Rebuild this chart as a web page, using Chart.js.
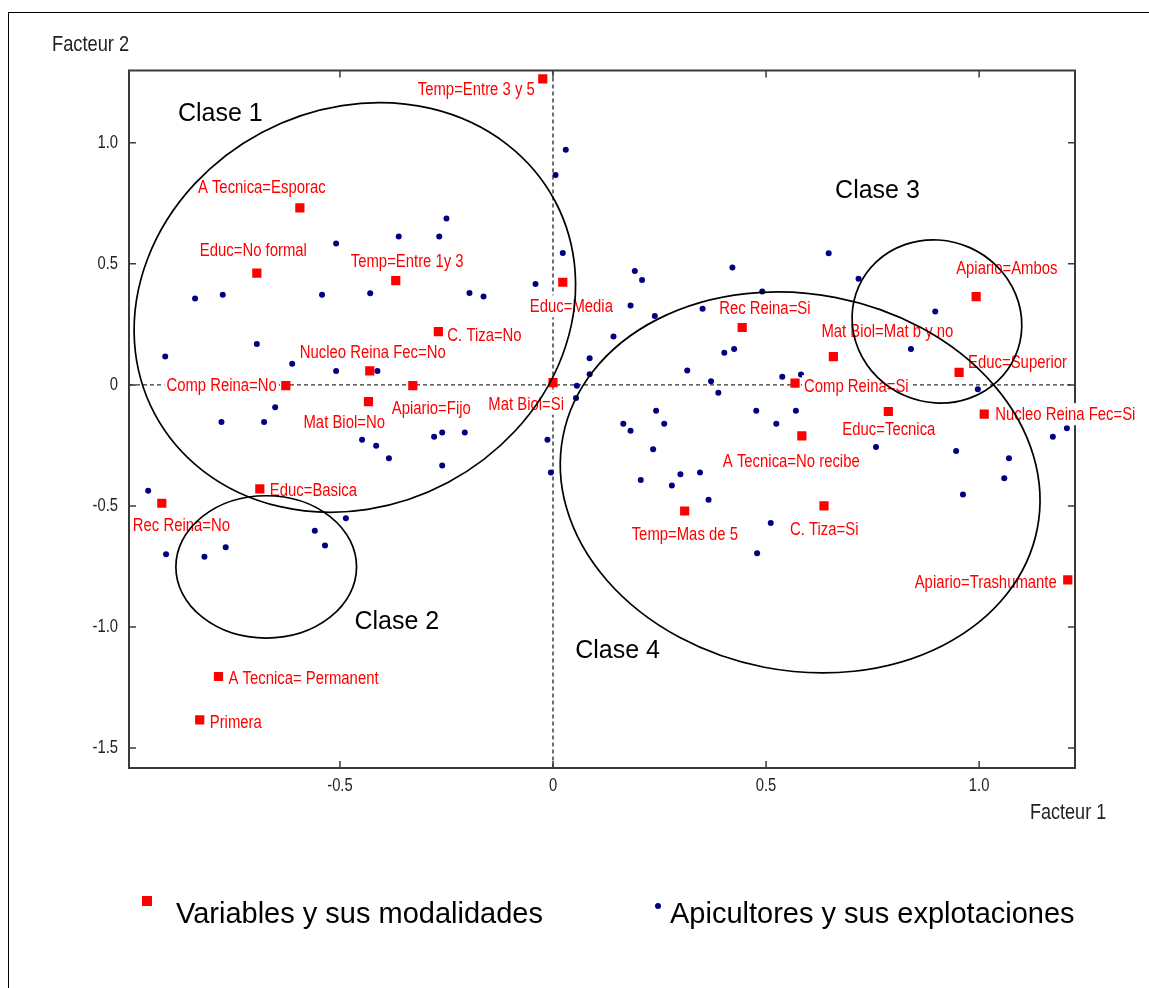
<!DOCTYPE html>
<html>
<head>
<meta charset="utf-8">
<title>Facteur 1 / Facteur 2</title>
<script src="https://cdn.jsdelivr.net/npm/chart.js@4/dist/chart.umd.min.js"></script>
<style>
  html, body { margin: 0; padding: 0; background: #fff; }
  #wrap { position: relative; width: 1149px; height: 988px; overflow: hidden; }
  #frame { position: absolute; left: 8px; top: 12px; width: 1400px; height: 1200px;
           border-left: 1.5px solid #000; border-top: 1.5px solid #000; }
  canvas { position: absolute; left: 0; top: 0; }
  .leg { position: absolute; font-family: "Liberation Sans", Arial, sans-serif; font-size: 29px;
         color: #000; line-height: 1; white-space: nowrap; }
  .sq { position: absolute; width: 10px; height: 10px; background: #ff0000; }
  .dot { position: absolute; width: 6px; height: 6px; border-radius: 50%; background: #000080; }
</style>
</head>
<body>
<div id="wrap">
  <div id="frame"></div>
  <canvas id="c" width="1149" height="988"></canvas>
  <div class="sq" style="left:142px; top:896px;"></div>
  <div class="leg" style="left:176px; top:899px;">Variables y sus modalidades</div>
  <div class="dot" style="left:655px; top:903px;"></div>
  <div class="leg" style="left:670px; top:899px;">Apicultores y sus explotaciones</div>
</div>
<script>
// Modalities of the variables (factor coordinates)
const modalityNames = [
  'Temp=Entre 3 y 5', 'A Tecnica=Esporac', 'Educ=No formal', 'Temp=Entre 1y 3',
  'C. Tiza=No', 'Nucleo Reina Fec=No', 'Comp Reina=No', 'Apiario=Fijo',
  'Mat Biol=No', 'Educ=Media', 'Mat Biol=Si', 'Rec Reina=Si',
  'Mat Biol=Mat b y no', 'Apiario=Ambos', 'Educ=Superior', 'Comp Reina=Si',
  'Educ=Tecnica', 'Nucleo Reina Fec=Si', 'A Tecnica=No recibe', 'Temp=Mas de 5',
  'C. Tiza=Si', 'Apiario=Trashumante', 'Rec Reina=No', 'Educ=Basica',
  'A Tecnica= Permanent', 'Primera'
];
const modalityF1 = [
  -0.024, -0.594, -0.695, -0.369, -0.269, -0.430, -0.627, -0.329,
  -0.433, 0.023, 0.000, 0.444, 0.658, 0.993, 0.953, 0.568,
  0.787, 1.012, 0.584, 0.309, 0.636, 1.208, -0.918, -0.688,
  -0.785, -0.829
];
const modalityF2 = [
  1.264, 0.731, 0.462, 0.431, 0.220, 0.058, -0.003, -0.003,
  -0.069, 0.424, 0.009, 0.237, 0.117, 0.365, 0.052, 0.007,
  -0.110, -0.121, -0.211, -0.521, -0.500, -0.806, -0.489, -0.430,
  -1.205, -1.384
];

// Beekeepers and their holdings (factor coordinates)
const keeperF1 = [
  -0.509, -0.362, -0.267, -0.250, 0.030, 0.006, 0.023, -0.196, -0.163, -0.041,
  0.192, 0.209, 0.421, 0.182, 0.351, 0.491, -0.840, -0.775, -0.542, -0.429,
  -0.695, -0.910, -0.612, -0.509, -0.412, -0.652, -0.778, -0.678, -0.448, -0.415,
  -0.385, -0.279, -0.260, -0.207, -0.260, -0.013, -0.950, -0.005, -0.486, -0.559,
  -0.535, -0.908, -0.818, -0.768, 0.239, 0.142, 0.086, 0.086, 0.056, 0.054,
  0.315, 0.402, 0.425, 0.371, 0.388, 0.538, 0.582, 0.242, 0.165, 0.182,
  0.261, 0.235, 0.477, 0.570, 0.524, 0.758, 0.206, 0.279, 0.299, 0.345,
  0.365, 0.511, 0.479, 0.647, 0.717, 0.897, 0.840, 0.997, 1.173, 0.946,
  1.070, 1.059, 0.962, 1.206
];
const keeperF2 = [
  0.584, 0.613, 0.613, 0.687, 0.972, 0.867, 0.545, 0.380, 0.365, 0.417,
  0.471, 0.433, 0.485, 0.328, 0.315, 0.386, 0.357, 0.372, 0.372, 0.379,
  0.169, 0.117, 0.087, 0.057, 0.057, -0.092, -0.153, -0.153, -0.227, -0.251,
  -0.303, -0.214, -0.197, -0.197, -0.333, -0.227, -0.437, -0.362, -0.551, -0.603,
  -0.664, -0.700, -0.710, -0.671, 0.285, 0.200, 0.110, 0.044, -0.004, -0.054,
  0.059, 0.133, 0.148, 0.015, -0.033, 0.034, 0.043, -0.107, -0.161, -0.190,
  -0.161, -0.266, -0.107, -0.107, -0.161, -0.257, -0.393, -0.416, -0.369, -0.362,
  -0.475, -0.571, -0.696, 0.544, 0.439, 0.303, 0.148, -0.018, -0.214, -0.273,
  -0.303, -0.386, -0.453, -0.179
];

// Axis ticks
const xTickValues = [-0.5, 0, 0.5, 1.0];
const yTickValues = [-1.5, -1.0, -0.5, 0, 0.5, 1.0];

// Clusters: ellipse centre, semi-axes (in axis units) and tilt in degrees
const classNames = ['Clase 1', 'Clase 2', 'Clase 3', 'Clase 4'];
const classCenterF1 = [-0.465, -0.673, 0.901, 0.580];
const classCenterF2 = [0.320, -0.752, 0.262, -0.403];
const classRadiusF1 = [0.532, 0.212, 0.201, 0.567];
const classRadiusF2 = [0.819, 0.294, 0.334, 0.778];
const classTilt = [-28, 0, 24, 11];
const classTitleF1 = [-0.880, -0.466, 0.662, 0.052];
const classTitleF2 = [1.120, -0.982, 0.799, -1.099];

// Label placement next to each modality marker: [dx, dy, align]
const labelPlacement = [
  [-8, 10, 'right'], [-102, -21, 'left'], [-57, -23, 'left'], [-45, -19, 'left'],
  [9, 4, 'left'], [-70, -19, 'left'], [-9, 0, 'right'], [-21, 23, 'left'],
  [-65, 21, 'left'], [-33, 24, 'left'], [11, 21, 'right'], [-23, -19, 'left'],
  [-12, -25, 'left'], [-20, -28, 'left'], [9, -10, 'left'], [9, 3, 'left'],
  [-46, 18, 'left'], [11, 0, 'left'], [-79, 25, 'left'], [-53, 23, 'left'],
  [-34, 23, 'left'], [-11, 2, 'right'], [-29, 22, 'left'], [10, 1, 'left'],
  [10, 2, 'left'], [10, 2, 'left']
];

const SANS = '"Liberation Sans", Arial, sans-serif';

// narrow lettering: regular sans squeezed horizontally
function narrowWidth(ctx, text, k) {
  return ctx.measureText(text).width * k;
}
function narrowText(ctx, text, x, y, align, k) {
  const w = narrowWidth(ctx, text, k);
  const left = align === 'right' ? x - w : (align === 'center' ? x - w / 2 : x);
  ctx.save();
  ctx.translate(left, y);
  ctx.scale(k, 1);
  ctx.textAlign = 'left';
  ctx.fillText(text, 0, 0);
  ctx.restore();
}

const modalityPoints = modalityF1.map((v, i) => ({ x: v, y: modalityF2[i] }));
const keeperPoints = keeperF1.map((v, i) => ({ x: v, y: keeperF2[i] }));

const plotDecor = {
  id: 'plotDecor',
  beforeDatasetsDraw(chart) {
    const { ctx, chartArea: a, scales: { x, y } } = chart;
    ctx.save();
    // dashed zero axes
    ctx.strokeStyle = '#333';
    ctx.lineWidth = 1.4;
    ctx.setLineDash([4, 3]);
    const x0 = x.getPixelForValue(0), y0 = y.getPixelForValue(0);
    ctx.beginPath();
    ctx.moveTo(a.left, y0); ctx.lineTo(a.right, y0);
    ctx.moveTo(x0, a.top); ctx.lineTo(x0, a.bottom);
    ctx.stroke();
    ctx.setLineDash([]);
    // frame
    ctx.strokeStyle = '#3a3a3a';
    ctx.lineWidth = 2;
    ctx.strokeRect(a.left, a.top, a.right - a.left, a.bottom - a.top);
    // inward tick marks on all four sides
    ctx.lineWidth = 1.5;
    ctx.beginPath();
    const tl = 7;
    x.ticks.forEach(t => {
      const px = x.getPixelForValue(t.value);
      ctx.moveTo(px, a.bottom); ctx.lineTo(px, a.bottom - tl);
      ctx.moveTo(px, a.top); ctx.lineTo(px, a.top + tl);
    });
    y.ticks.forEach(t => {
      const py = y.getPixelForValue(t.value);
      ctx.moveTo(a.left, py); ctx.lineTo(a.left + tl, py);
      ctx.moveTo(a.right, py); ctx.lineTo(a.right - tl, py);
    });
    ctx.stroke();
    // tick labels
    ctx.fillStyle = '#222';
    ctx.font = '18px ' + SANS;
    ctx.textBaseline = 'middle';
    x.ticks.forEach(t => {
      narrowText(ctx, fmtTick(t.value), x.getPixelForValue(t.value), a.bottom + 18, 'center', 0.82);
    });
    y.ticks.forEach(t => {
      narrowText(ctx, fmtTick(t.value), a.left - 11, y.getPixelForValue(t.value), 'right', 0.82);
    });
    // axis titles
    ctx.font = '22px ' + SANS;
    narrowText(ctx, 'Facteur 2', 52, 45, 'left', 0.83);
    narrowText(ctx, 'Facteur 1', 1030, 813, 'left', 0.82);
    ctx.restore();
  },
  afterDatasetsDraw(chart) {
    const { ctx, scales: { x, y } } = chart;
    ctx.save();
    // modality labels on white boxes
    const k = 0.85;
    ctx.font = '17.5px ' + SANS;
    ctx.textBaseline = 'middle';
    modalityNames.forEach((name, i) => {
      const [dx, dy, align] = labelPlacement[i];
      const px = x.getPixelForValue(modalityF1[i]) + dx;
      const py = y.getPixelForValue(modalityF2[i]) + dy;
      const w = narrowWidth(ctx, name, k);
      const left = align === 'right' ? px - w : (align === 'center' ? px - w / 2 : px);
      ctx.fillStyle = '#fff';
      ctx.fillRect(left - 2, py - 11, w + 4, 22);
      ctx.fillStyle = '#ff0000';
      narrowText(ctx, name, left, py + 1, 'left', k);
    });
    // cluster ellipses
    ctx.strokeStyle = '#000';
    ctx.lineWidth = 1.7;
    classNames.forEach((name, i) => {
      const cx = x.getPixelForValue(classCenterF1[i]);
      const cy = y.getPixelForValue(classCenterF2[i]);
      const rx = Math.abs(x.getPixelForValue(classCenterF1[i] + classRadiusF1[i]) - cx);
      const ry = Math.abs(y.getPixelForValue(classCenterF2[i] + classRadiusF2[i]) - cy);
      ctx.beginPath();
      ctx.ellipse(cx, cy, rx, ry, classTilt[i] * Math.PI / 180, 0, Math.PI * 2);
      ctx.stroke();
    });
    // cluster names
    ctx.fillStyle = '#000';
    ctx.font = '25px ' + SANS;
    ctx.textAlign = 'left';
    ctx.textBaseline = 'middle';
    classNames.forEach((name, i) => {
      ctx.fillText(name, x.getPixelForValue(classTitleF1[i]), y.getPixelForValue(classTitleF2[i]));
    });
    ctx.restore();
  }
};

function fmtTick(v) {
  return v === 0 ? '0' : v.toFixed(1);
}

new Chart(document.getElementById('c'), {
  type: 'scatter',
  data: {
    datasets: [
      {
        label: 'Variables y sus modalidades',
        data: modalityPoints,
        pointStyle: 'rect',
        pointRadius: 6.5,
        pointHoverRadius: 6.5,
        backgroundColor: '#ff0000',
        borderWidth: 0
      },
      {
        label: 'Apicultores y sus explotaciones',
        data: keeperPoints,
        pointStyle: 'circle',
        pointRadius: 3,
        pointHoverRadius: 3,
        backgroundColor: '#000080',
        borderWidth: 0
      }
    ]
  },
  options: {
    responsive: false,
    animation: false,
    devicePixelRatio: 1,
    events: [],
    layout: { padding: { left: 0, top: 70.5, right: 74, bottom: 180 } },
    plugins: { legend: { display: false }, tooltip: { enabled: false } },
    scales: {
      x: {
        type: 'linear',
        min: -0.995,
        max: 1.225,
        afterFit(s) { s.height = 40; },
        afterBuildTicks(s) { s.ticks = xTickValues.map(v => ({ value: v })); },
        grid: { display: false, drawTicks: false },
        border: { display: false },
        ticks: { display: false }
      },
      y: {
        type: 'linear',
        min: -1.583,
        max: 1.299,
        afterFit(s) { s.width = 129; },
        afterBuildTicks(s) { s.ticks = yTickValues.map(v => ({ value: v })); },
        grid: { display: false, drawTicks: false },
        border: { display: false },
        ticks: { display: false }
      }
    }
  },
  plugins: [plotDecor]
});
</script>
</body>
</html>
